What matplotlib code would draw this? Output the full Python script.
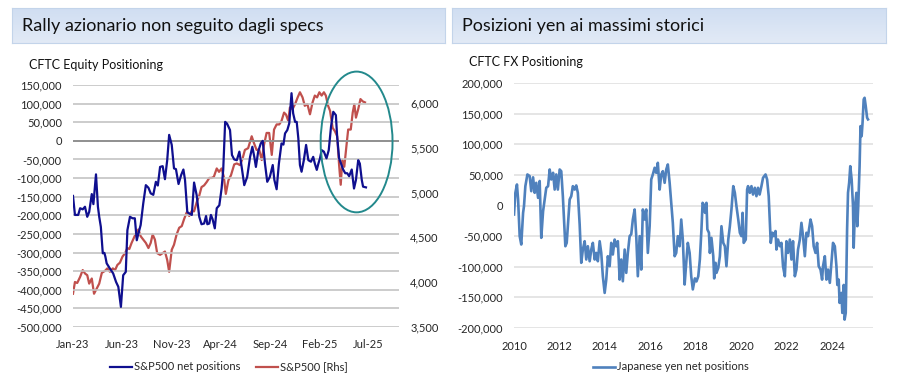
import numpy as np
import pandas as pd
import matplotlib
matplotlib.use("Agg")
import matplotlib.pyplot as plt
import matplotlib.dates as mdates
from matplotlib.patches import Ellipse
from matplotlib.ticker import FuncFormatter, FixedLocator

plt.rcParams['font.family'] = ['Lato', 'DejaVu Sans']

# ---- left chart: S&P500 CFTC net positions (weekly) and index level ----
start = pd.Timestamp("2023-01-01")
pos_days = [0, 6, 16, 22, 30, 37, 44, 50, 58, 63, 71, 77, 81, 86, 92, 97, 100, 104, 114, 124,
            133, 140, 148, 155, 163, 168, 176, 184, 191, 197, 202, 209, 217, 225, 233, 240, 248, 256, 262, 269,
            277, 284, 291, 297, 305, 312, 318, 326, 334, 341, 346, 353, 359, 367, 374, 382, 390, 397, 405, 411,
            415, 421, 426, 431, 438, 444, 452, 459, 464, 470, 476, 485, 491, 498, 506, 514, 521, 529, 538, 547,
            554, 560, 565, 572, 580, 586, 593, 600, 608, 617, 622, 629, 636, 644, 650, 655, 662, 668, 675, 680,
            686, 691, 696, 701, 706, 713, 720, 727, 735, 742, 747, 753, 758, 763, 768, 775, 783, 790, 797, 804,
            812, 816, 822, 828, 835, 841, 847, 853, 861, 868, 874, 881, 886, 892, 896, 905]
spx_net_pos = [-148, -199, -199, -181, -184, -177, -204, -191, -143, -170, -90, -177, -204, -231, -302, -301,
               -311, -329, -343, -356, -379, -392, -446, -361, -352, -240, -204, -208, -208, -267, -249, -226,
               -168, -119, -126, -141, -145, -110, -120, -70, -68, -103, -52, 16, -11, -74, -76, -116, -92, -77,
               -105, -191, -195, -199, -112, -146, -204, -224, -222, -202, -224, -222, -199, -210, -235, -181,
               -173, -128, -78, 51, 46, 29, -38, -50, -52, -29, -70, -119, -97, -43, -16, -43, -70, -29, -7, 0,
               -61, -110, -97, -65, -105, -130, -61, -7, -10, 20, 29, 47, 128, 74, 51, 51, 7, -65, -83, -52,
               -11, -52, -56, -43, -61, -78, -61, -47, -25, -29, -47, -25, 38, 78, 69, 11, -47, -61, -78, -87,
               -87, -95, -77, -128, -105, -52, -61, -105, -123, -125]
spx_days = [0, 6, 13, 22, 30, 37, 44, 50, 58, 65, 73, 81, 89, 99, 106, 114, 123, 130, 137, 145,
            153, 161, 168, 174, 181, 188, 195, 202, 209, 217, 225, 233, 240, 246, 253, 260, 269, 277, 284, 291,
            297, 305, 312, 320, 328, 336, 343, 351, 359, 367, 374, 382, 390, 397, 405, 413, 421, 428, 435, 444,
            451, 459, 466, 472, 480, 488, 498, 506, 516, 524, 531, 541, 552, 559, 567, 575, 583, 590, 598, 606,
            614, 621, 629, 637, 644, 652, 658, 665, 670, 678, 686, 694, 701, 709, 716, 724, 732, 740, 747, 754,
            761, 768, 775, 781, 788, 794, 802, 809, 816, 822, 827, 832, 838, 845, 850, 858, 864, 869, 874, 881,
            888, 895, 902]
spx_level = [3871, 4002, 3991, 4059, 4135, 4097, 4078, 3984, 4041, 3871, 3927, 3984, 4104, 4127, 4154, 4116,
             4154, 4135, 4192, 4218, 4286, 4324, 4381, 4370, 4438, 4494, 4551, 4588, 4513, 4475, 4438, 4381,
             4438, 4532, 4475, 4324, 4305, 4324, 4342, 4248, 4116, 4362, 4418, 4532, 4607, 4626, 4702, 4778,
             4739, 4796, 4790, 4891, 4966, 5061, 5080, 5118, 5163, 5163, 5175, 5269, 5231, 5269, 5175, 4985,
             5136, 5193, 5314, 5325, 5306, 5382, 5476, 5495, 5628, 5552, 5476, 5480, 5363, 5533, 5665, 5665,
             5420, 5703, 5760, 5760, 5798, 5892, 5870, 5798, 5949, 5930, 5987, 6062, 6119, 6062, 5968, 5987,
             5873, 6006, 6082, 6062, 6119, 6082, 6119, 6082, 5968, 5912, 5722, 5684, 5628, 5306, 5087, 5363,
             5288, 5533, 5703, 5703, 5892, 5987, 5836, 5930, 6043, 6017, 6006]
left_ticks = ["2023-01-01", "2023-06-01", "2023-11-01", "2024-04-01", "2024-09-01", "2025-02-01", "2025-07-01"]

# ---- right chart: Japanese yen CFTC net positions ----
jpy_year = [2010.00, 2010.06, 2010.13, 2010.18, 2010.25, 2010.32, 2010.40, 2010.44, 2010.50, 2010.59,
            2010.69, 2010.76, 2010.84, 2010.91, 2010.98, 2011.06, 2011.13, 2011.20, 2011.28, 2011.35,
            2011.42, 2011.50, 2011.57, 2011.64, 2011.72, 2011.79, 2011.86, 2011.93, 2012.01, 2012.08,
            2012.15, 2012.20, 2012.26, 2012.32, 2012.37, 2012.45, 2012.52, 2012.59, 2012.67, 2012.74,
            2012.81, 2012.89, 2012.96, 2013.03, 2013.11, 2013.18, 2013.25, 2013.33, 2013.40, 2013.47,
            2013.55, 2013.62, 2013.69, 2013.77, 2013.84, 2013.91, 2013.99, 2014.06, 2014.13, 2014.21,
            2014.28, 2014.35, 2014.43, 2014.50, 2014.57, 2014.65, 2014.72, 2014.79, 2014.87, 2014.94,
            2015.01, 2015.09, 2015.16, 2015.23, 2015.31, 2015.38, 2015.45, 2015.53, 2015.60, 2015.67,
            2015.75, 2015.82, 2015.89, 2015.97, 2016.04, 2016.11, 2016.19, 2016.26, 2016.33, 2016.41,
            2016.48, 2016.55, 2016.63, 2016.70, 2016.77, 2016.85, 2016.92, 2016.99, 2017.07, 2017.14,
            2017.21, 2017.29, 2017.36, 2017.43, 2017.51, 2017.58, 2017.65, 2017.73, 2017.80, 2017.87,
            2017.96, 2018.03, 2018.11, 2018.18, 2018.25, 2018.30, 2018.35, 2018.41, 2018.47, 2018.51,
            2018.58, 2018.62, 2018.69, 2018.77, 2018.81, 2018.87, 2018.91, 2018.99, 2019.06, 2019.13,
            2019.21, 2019.28, 2019.35, 2019.43, 2019.50, 2019.57, 2019.65, 2019.72, 2019.79, 2019.87,
            2019.94, 2020.01, 2020.06, 2020.11, 2020.20, 2020.26, 2020.30, 2020.38, 2020.45, 2020.52,
            2020.60, 2020.67, 2020.74, 2020.81, 2020.89, 2020.96, 2021.07, 2021.14, 2021.21, 2021.26,
            2021.30, 2021.37, 2021.43, 2021.51, 2021.55, 2021.62, 2021.70, 2021.77, 2021.84, 2021.92,
            2021.99, 2022.06, 2022.14, 2022.21, 2022.28, 2022.36, 2022.43, 2022.50, 2022.58, 2022.65,
            2022.72, 2022.80, 2022.87, 2022.94, 2023.05, 2023.12, 2023.19, 2023.27, 2023.34, 2023.41,
            2023.49, 2023.56, 2023.60, 2023.68, 2023.75, 2023.82, 2023.90, 2023.97, 2024.04, 2024.12,
            2024.19, 2024.23, 2024.29, 2024.33, 2024.41, 2024.45, 2024.51, 2024.55, 2024.60, 2024.66,
            2024.70, 2024.75, 2024.80, 2024.86, 2024.92, 2024.95, 2025.01, 2025.07, 2025.11, 2025.15,
            2025.21, 2025.25, 2025.30, 2025.34, 2025.39, 2025.43, 2025.48, 2025.54, 2025.58]
jpy_net_pos = [-14.7, 20.7, 34.3, 9.8, -50, -63.7, -12, -1, 31.6, 50.7,
               48, 23.4, 46, 20.7, 37, 12.5, 40, -52.8, -9.3, 9.8,
               28.9, 31.6, 58.8, 42.5, 53.4, 26, 50.7, 26, 58.8, 56,
               15.2, -22.9, -66.5, -61, -33.8, 9.8, 15.2, 31.6, 26, 32.7,
               20.7, -31, -93.6, -71.9, -58.3, -88.2, -66.5, -91, -71.9, -61,
               -88.2, -77.4, -91, -58.3, -77.4, -115.5, -142.7, -121, -82.8, -99.1,
               -61, -80, -55.6, -66.5, -58.3, -121, -88.2, -123.7, -71.9, -110,
               -77.4, -50, -47, -22.9, -6.5, -50, -115.5, -50, -104.6, -6.5,
               -22.9, -6.5, -77.4, -33.8, 42.5, 50.7, 61.6, 53.4, 69.7, 26,
               50.7, 56, 37, 58.8, 67, 37, 4.4, -28.3, -82.8, -77.4,
               -50, -66.5, -22.9, -55.6, -129, -93.6, -61, -77.4, -115.5, -137,
               -119, -124, -115.5, -88, -39, 4.4, 1.6, -12, 4.4, -39,
               -44.5, -77.4, -52.8, -82.8, -119, -93.6, -110, -101.8, -82.8, -33.8,
               -61, -66.5, -99.1, -55.6, -33.8, -6.5, 31.6, 20.7, -1, -22.9,
               -44.5, -50, -12, -61, -55.6, 26, 31.6, 20.7, 31.6, 17.9,
               28.9, 15.2, 28.9, 17.9, 31.6, 45.2, 50.7, 42.5, 15.2, -28.3,
               -61, -44.5, -50, -41.7, -71.9, -55.6, -66.5, -61, -99.1, -115.5,
               -58.3, -77.4, -55.6, -88.2, -58.3, -115.5, -104.6, -71.9, -55.6, -28.3,
               -50, -82.8, -44.5, -50, -22.9, -33.8, -66.5, -77.4, -61, -99.1,
               -104.6, -121, -99.1, -82.8, -121, -104.6, -126.3, -93.6, -61, -66.5,
               -99.1, -129.7, -121, -159, -142.7, -175.4, -129.7, -186.3, -175.4, -39,
               20.7, 37, 64.2, 42.5, -1, -69, -1, 20.7, -33.8, -1,
               64.2, 129.6, 113.2, 135, 173.2, 175.9, 162.3, 143.3, 140.6]
right_ticks = [2010, 2012, 2014, 2016, 2018, 2020, 2022, 2024]

W, H = 903, 378
fig = plt.figure(figsize=(W / 100, H / 100), dpi=100)

def px_box(x0, y0, x1, y1):
    return [x0 / W, 1 - y1 / H, (x1 - x0) / W, (y1 - y0) / H]

thousands = FuncFormatter(lambda v, p: f"{v:,.0f}")
txt = "#262626"

# title banners
for (x0, x1, title) in [(12, 445, "Rally azionario non seguito dagli specs"),
                        (452, 886, "Posizioni yen ai massimi storici")]:
    bax = fig.add_axes(px_box(x0, 8, x1, 43))
    grad = np.linspace(0, 1, 50).reshape(-1, 1)
    bax.imshow(grad, aspect="auto", cmap=matplotlib.colors.LinearSegmentedColormap.from_list(
        "b", ["#d0def2", "#e2eaf6"]), extent=[0, 1, 0, 1])
    bax.set_xlim(0, 1)
    bax.set_ylim(0, 1)
    bax.set_xticks([])
    bax.set_yticks([])
    for s in bax.spines.values():
        s.set_color("#c3d4ea")
    bax.text(10 / (x1 - x0), 0.5, title, fontsize=13, color="#111111", va="center", ha="left")

# ---- left chart ----
ax = fig.add_axes(px_box(73, 85, 399, 327))
pos_dates = start + pd.to_timedelta(pos_days, unit="D")
spx_dates = start + pd.to_timedelta(spx_days, unit="D")
ax.plot(pos_dates, np.array(spx_net_pos) * 1000, color="#0f0f8f", lw=1.6, zorder=3)
ax.set_ylim(-500000, 150000)
ax.set_yticks(np.arange(-500000, 150001, 50000))
ax.yaxis.set_major_formatter(thousands)
ax.set_xlim(start, start + pd.Timedelta(days=1007))
ax.xaxis.set_major_locator(FixedLocator(mdates.date2num(pd.to_datetime(left_ticks))))
ax.xaxis.set_major_formatter(mdates.DateFormatter("%b-%y"))
ax.grid(axis="y", color="#c4c4c4", lw=1.2)
ax.axhline(0, color="#8c8c8c", lw=1.3, zorder=2)
for s in ax.spines.values():
    s.set_visible(False)
ax.tick_params(length=0, labelsize=8, colors=txt, pad=8)
ax.tick_params(axis="x", pad=9)

ax2 = ax.twinx()
ax2.plot(spx_dates, spx_level, color="#c0504d", lw=1.6, zorder=2)
ax2.set_ylim(3500, 6200)
ax2.set_yticks(np.arange(3500, 6001, 500))
ax2.yaxis.set_major_formatter(thousands)
for s in ax2.spines.values():
    s.set_visible(False)
ax2.tick_params(length=0, labelsize=8, colors=txt, pad=8)
ax.set_zorder(ax2.get_zorder() + 1)
ax.patch.set_visible(False)

# highlight ellipse around the latest divergence
ell = Ellipse((mdates.date2num(pd.Timestamp("2025-05-26")), -3000), 222, 378000,
              fill=False, edgecolor="#23898c", lw=1.4, zorder=4, clip_on=False)
ax.add_patch(ell)

fig.text(29 / W, 1 - 65 / H, "CFTC Equity Positioning", fontsize=9, color="#111111", va="center")

h1, = ax.plot([], [], color="#0f0f8f", lw=1.6, label="S&P500 net positions")
h2, = ax.plot([], [], color="#c0504d", lw=1.6, label="S&P500 [Rhs]")
fig.legend(handles=[h1, h2], loc="center", bbox_to_anchor=(229 / W, 1 - 367 / H), ncol=2,
           frameon=False, fontsize=8, handlelength=2.0, handletextpad=0.15, columnspacing=1.4,
           labelcolor=txt)

# ---- right chart ----
bx = fig.add_axes(px_box(514, 83, 873, 328))
bx.plot(jpy_year, np.array(jpy_net_pos) * 1000, color="#4f81bd", lw=1.9)
bx.set_ylim(-200000, 200000)
bx.set_yticks(np.arange(-200000, 200001, 50000))
bx.yaxis.set_major_formatter(thousands)
bx.set_xlim(2010, 2025.8)
bx.set_xticks(right_ticks)
bx.grid(axis="y", color="#e0e0e0", lw=1.2)
bx.set_axisbelow(True)
for s in bx.spines.values():
    s.set_visible(False)
bx.tick_params(length=0, labelsize=8, colors=txt, pad=8)
bx.tick_params(axis="x", pad=9)

fig.text(469 / W, 1 - 62 / H, "CFTC FX Positioning", fontsize=9, color="#111111", va="center")

h3, = bx.plot([], [], color="#4f81bd", lw=1.9, label="Japanese yen net positions")
fig.legend(handles=[h3], loc="center", bbox_to_anchor=(671 / W, 1 - 367 / H),
           frameon=False, fontsize=8, handlelength=2.0, handletextpad=0.15, labelcolor=txt)

fig.savefig("out.png", dpi=100)
